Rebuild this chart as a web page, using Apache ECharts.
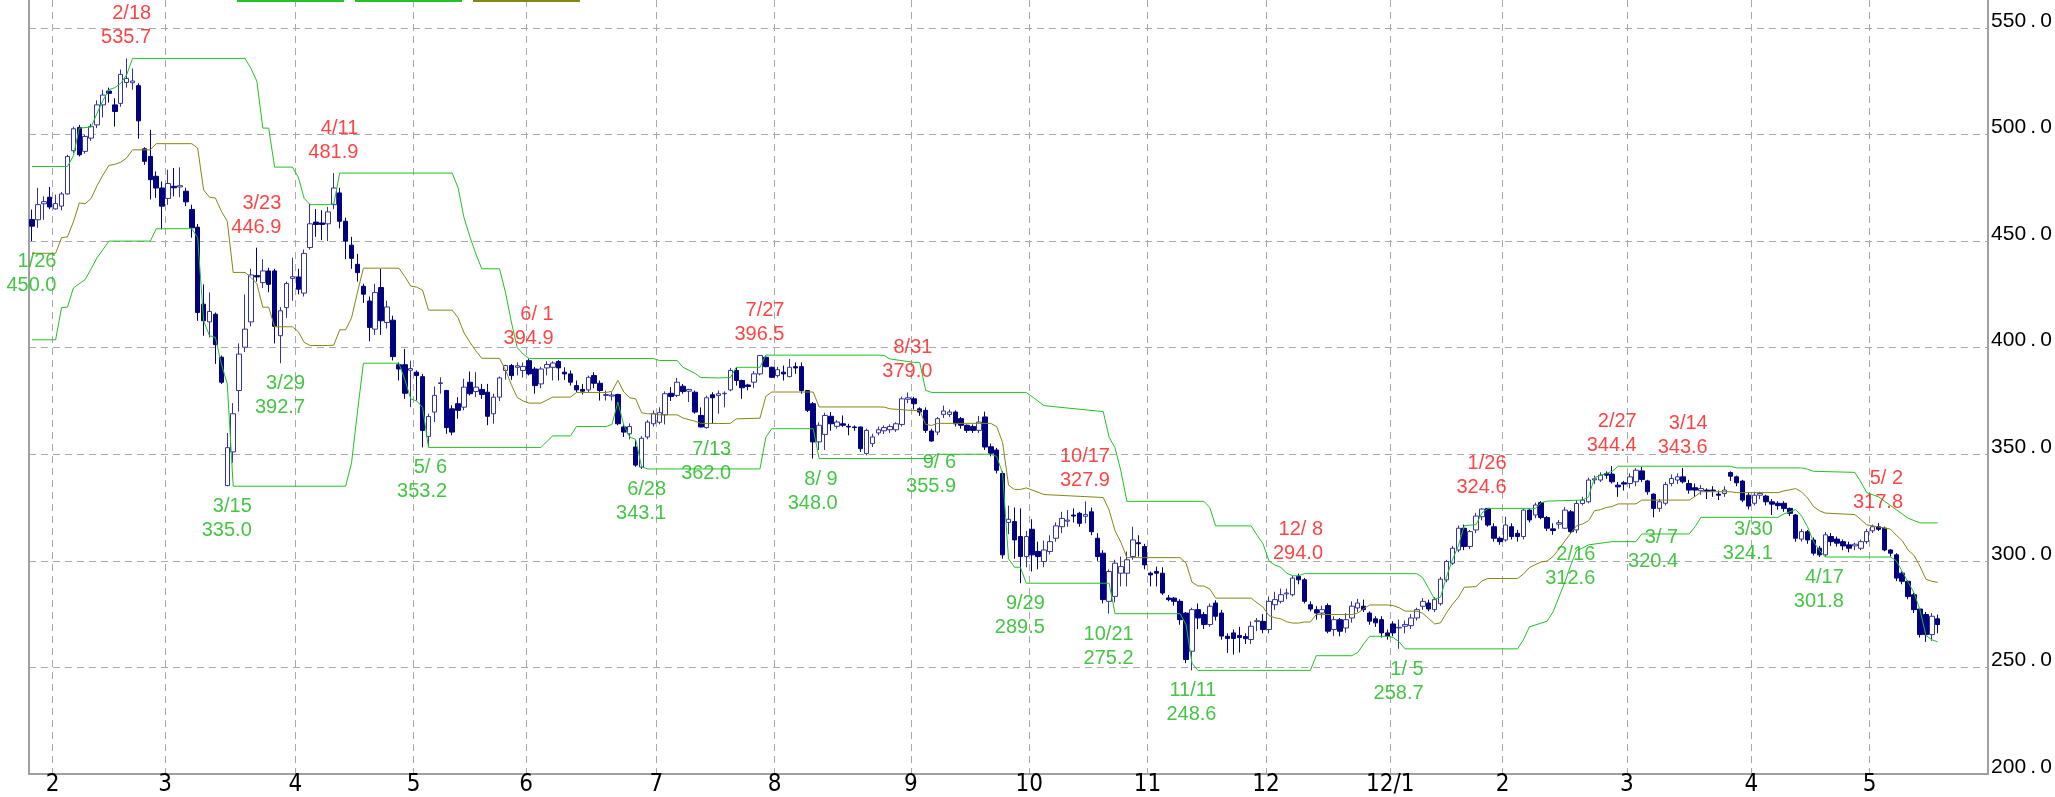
<!DOCTYPE html>
<html>
<head>
<meta charset="utf-8">
<script src="https://cdn.jsdelivr.net/npm/echarts@6.0.0/dist/echarts.min.js"></script>
<style>
  html, body { margin: 0; padding: 0; background: #fff; }
  #main { width: 2055px; height: 797px; }
</style>
</head>
<body>
<div id="main"></div>
<script>
// trading days per month, first month is the tail of Jan 2011
var monthLabels = ['', '2', '3', '4', '5', '6', '7', '8', '9', '10', '11', '12', '12/1', '2', '3', '4', '5'];
var monthDays = [4, 19, 22, 20, 19, 22, 20, 23, 20, 20, 20, 21, 19, 21, 21, 20, 12];
var blankDays = 8;

var opens = [
  460.1,460.0,467.5,470.6,465.1,466.4,472.1,492.4,503.3,492.1,
  498.3,504.5,513.9,520.4,513.9,514.6,524.4,524.3,522.9,493.3,
  489.7,480.4,474.9,470.0,475.7,475.4,473.4,464.8,456.5,420.4,
  412.1,415.7,395.5,335.3,351.1,379.9,400.2,412.1,433.8,430.5,
  436.0,436.0,405.6,418.8,432.5,433.2,425.6,447.0,458.9,458.5,
  458.1,467.1,472.6,459.3,448.1,439.1,428.8,421.9,408.7,428.2,
  411.8,412.9,392.0,392.0,389.4,388.5,386.4,358.4,369.8,383.2,
  379.9,371.3,373.7,372.1,383.8,379.4,380.4,379.1,369.0,376.8,
  389.3,391.6,390.8,389.3,393.9,390.0,383.0,390.5,390.8,393.5,
  388.5,387.7,382.2,380.4,380.2,386.9,383.3,377.6,377.3,378.0,
  362.8,359.6,353.4,344.0,358.1,364.3,365.0,368.5,378.6,377.6,
  381.9,379.6,379.1,368.2,362.5,377.9,377.6,378.4,380.2,389.3,
  384.6,382.5,383.8,387.7,395.5,390.8,386.9,388.5,386.4,391.1,
  391.1,379.9,373.7,355.8,359.3,367.8,363.1,364.3,363.1,362.8,
  362.8,350.3,355.0,360.0,361.0,361.5,361.5,364.0,375.8,376.0,
  371.3,370.6,360.9,360.4,368.7,368.7,369.8,366.7,363.6,363.0,
  361.2,367.5,353.5,352.0,341.0,318.0,318.4,311.4,302.0,314.8,
  304.4,299.7,304.4,310.6,316.0,318.6,321.5,322.3,320.9,323.0,
  310.6,303.6,281.0,283.3,294.2,294.2,302.0,308.5,306.7,294.2,
  295.0,294.2,282.6,282.5,281.0,275.5,257.6,277.1,274.8,270.1,
  280.2,275.5,264.6,266.2,265.0,264.5,263.1,271.6,271.6,267.8,
  279.4,281.0,284.5,284.1,292.7,291.1,279.4,277.1,275.5,279.0,
  267.8,272.4,268.5,273.2,277.9,278.7,275.5,272.8,272.4,266.2,
  270.4,268.5,269.3,269.6,273.2,278.7,280.2,277.1,279.9,291.1,
  298.9,305.1,315.3,306.7,314.5,320.7,324.6,316.0,310.6,309.8,
  316.0,312.9,311.4,323.8,321.5,327.3,320.3,315.0,317.2,315.3,
  323.0,314.5,326.9,327.7,338.0,337.9,341.0,340.7,335.5,336.6,
  336.3,337.1,342.2,337.5,331.3,324.6,327.0,336.3,337.9,339.4,
  336.3,334.3,332.9,333.2,333.2,331.3,331.6,341.4,339.4,337.4,
  330.8,327.0,330.8,330.4,327.7,327.0,327.0,324.6,321.5,310.2,
  313.7,309.8,305.9,302.8,311.4,310.2,309.0,307.5,307.0,305.9,
  309.0,314.1,316.0,315.3,305.1,302.8,294.2,290.4,284.1,277.4,
  274.8,265.4,272.8
];
var closes = [
  457.0,467.1,468.5,466.0,467.6,472.1,489.7,502.7,490.5,499.1,
  503.7,513.9,518.5,519.3,510.8,528.2,526.3,525.1,506.4,487.4,
  478.8,474.9,466.4,477.0,475.0,476.0,468.4,456.2,416.5,412.6,
  417.0,401.4,383.8,353.1,369.0,397.0,408.7,434.1,433.2,436.0,
  429.7,410.0,417.3,430.1,433.3,427.4,444.2,458.1,457.8,457.8,
  463.7,474.9,459.3,450.0,441.9,435.2,425.1,409.5,425.9,412.6,
  419.1,395.8,390.0,378.6,390.2,386.9,361.2,367.7,377.6,383.5,
  362.5,360.4,370.6,381.5,378.4,381.5,378.0,367.8,376.8,385.8,
  391.6,386.9,391.5,391.2,387.7,382.2,390.0,392.1,392.8,390.5,
  387.7,383.8,380.2,379.6,386.1,383.3,379.9,378.0,377.8,364.3,
  360.4,363.0,344.9,357.5,365.1,369.0,369.5,378.4,377.1,383.8,
  379.4,380.4,369.8,362.8,376.5,376.5,378.4,378.6,389.3,384.6,
  381.2,381.8,387.7,396.3,391.1,386.1,389.7,387.7,390.8,390.5,
  379.9,370.6,355.8,363.6,368.2,364.3,365.1,363.6,362.8,362.5,
  352.6,361.2,358.1,361.5,362.5,363.0,364.3,376.0,376.5,373.7,
  369.8,361.2,356.2,366.7,370.3,369.8,364.3,363.6,361.2,361.2,
  365.1,353.4,350.5,342.5,302.8,319.5,309.8,302.0,311.4,302.8,
  302.0,305.1,309.0,316.4,319.9,319.1,321.0,317.6,321.7,313.7,
  302.0,281.8,295.0,298.9,297.3,300.5,309.8,308.0,298.1,293.4,
  294.2,284.9,281.8,281.0,272.4,253.7,277.1,273.2,270.1,278.7,
  274.0,264.7,263.6,263.6,264.0,263.5,269.3,271.9,267.8,281.0,
  281.8,284.1,284.9,291.9,291.1,281.0,277.4,275.5,277.1,267.0,
  272.4,267.0,272.4,278.7,280.2,277.1,271.7,270.9,266.2,264.6,
  266.2,268.8,270.1,273.2,277.1,281.0,277.4,281.8,291.4,299.7,
  305.9,315.3,306.7,313.7,321.0,324.3,316.8,310.6,309.0,316.8,
  311.4,311.4,323.8,319.2,326.2,320.3,315.3,314.2,317.9,323.8,
  313.7,326.9,328.5,337.9,338.5,340.2,340.2,337.1,334.7,336.0,
  339.4,342.5,338.2,332.4,324.6,327.7,335.8,338.6,339.4,337.1,
  333.2,333.2,333.9,332.7,332.9,330.8,333.2,339.7,336.6,328.5,
  325.7,330.8,331.6,327.7,326.6,325.9,324.6,322.3,310.6,313.7,
  309.8,303.6,302.8,312.2,309.0,308.3,307.0,305.9,307.8,309.0,
  313.7,316.0,314.8,305.1,303.6,291.9,290.4,283.3,277.1,265.4,
  265.4,274.0,270.1
];
var lows = [
  450.0,456.2,460.0,465.0,464.8,464.5,471.8,491.3,489.7,491.0,
  497.0,503.0,508.0,515.0,503.7,513.0,522.0,521.0,498.0,485.8,
  469.5,470.3,455.5,467.0,471.0,470.6,466.4,451.6,412.6,405.6,
  404.8,392.4,383.0,335.0,346.0,370.0,398.0,410.0,431.0,428.0,
  426.0,402.0,392.7,414.0,422.0,425.0,424.0,446.0,452.0,450.5,
  450.0,465.0,456.0,441.5,437.0,431.0,421.0,403.0,406.0,406.0,
  409.0,394.0,384.6,376.0,372.1,375.2,353.2,353.4,365.1,378.4,
  359.6,358.9,366.7,370.6,377.6,376.8,376.0,363.6,364.3,375.0,
  385.0,384.9,387.0,386.0,387.0,378.4,381.0,387.0,384.6,384.6,
  384.9,382.2,379.1,378.0,379.1,381.0,375.2,375.2,375.2,363.6,
  358.1,357.0,344.1,343.1,357.0,363.0,364.0,364.0,375.0,376.8,
  378.4,374.5,369.0,362.6,362.0,364.3,369.0,372.0,379.6,382.2,
  376.0,380.0,381.0,387.0,390.8,385.8,386.0,384.6,386.1,387.7,
  378.4,369.8,348.0,352.0,352.0,361.0,362.0,362.8,358.9,361.0,
  351.1,349.5,353.4,358.9,359.5,360.0,360.5,363.0,374.0,371.0,
  368.0,360.0,355.9,359.0,367.0,367.5,363.0,362.0,360.0,360.0,
  360.0,352.0,349.0,341.0,301.0,312.5,301.0,289.5,297.0,295.0,
  296.0,297.0,303.0,309.0,313.0,316.0,318.0,316.0,317.6,312.0,
  300.0,280.0,275.2,280.5,288.0,288.0,300.5,302.0,296.0,288.0,
  288.0,284.0,281.0,279.0,270.0,252.0,248.6,268.0,268.0,269.0,
  272.0,263.0,256.8,256.0,257.0,261.0,261.0,267.0,266.0,266.0,
  277.0,280.0,282.0,283.3,289.0,280.0,276.3,272.4,273.0,266.0,
  264.7,264.6,266.2,271.0,276.0,276.0,270.0,269.0,264.0,263.0,
  264.6,258.7,266.0,268.0,272.0,277.0,276.3,276.0,279.0,290.0,
  298.0,304.0,305.0,305.5,313.0,319.0,316.0,309.0,307.5,309.0,
  310.0,309.0,310.0,318.0,320.0,319.5,314.0,312.2,315.0,315.0,
  312.6,313.0,326.0,327.0,336.0,337.0,338.5,336.3,330.0,333.0,
  334.0,335.0,337.0,331.0,320.4,323.0,326.0,335.0,336.0,336.3,
  331.5,330.0,331.0,329.0,330.0,328.5,330.0,337.5,335.0,327.5,
  324.1,326.0,329.0,326.0,321.5,324.0,323.0,321.0,309.0,309.0,
  308.0,302.5,301.8,302.0,307.0,306.7,305.0,304.0,305.0,305.0,
  308.0,313.0,314.0,304.5,302.0,290.5,289.0,282.0,275.5,264.0,
  262.0,262.5,266.0
];
var highs = [
  464.8,475.0,471.0,475.4,471.8,473.0,490.5,503.7,504.5,500.0,
  505.0,516.0,521.0,522.0,517.0,530.5,535.7,531.0,524.0,494.0,
  502.2,482.7,478.0,483.5,484.3,484.6,475.0,467.1,458.0,429.7,
  425.9,416.5,396.3,360.0,374.0,402.0,425.0,437.0,446.9,441.5,
  437.5,437.0,419.0,431.0,442.2,437.0,446.0,467.5,465.0,464.5,
  466.0,481.9,475.0,461.0,452.0,444.0,430.0,424.0,430.0,437.0,
  422.0,415.0,393.1,399.4,393.9,389.3,387.7,369.0,381.8,386.1,
  380.2,373.0,376.8,385.4,388.8,388.5,383.0,383.0,378.4,386.5,
  391.9,392.4,393.1,393.0,394.9,391.0,391.0,393.6,393.6,394.2,
  390.8,389.3,384.6,383.0,386.9,388.5,384.6,379.9,379.1,378.4,
  364.3,364.5,356.5,358.5,366.0,370.5,372.0,379.5,381.5,385.8,
  383.0,380.7,379.9,372.0,377.5,379.1,379.9,379.5,390.5,390.8,
  385.0,383.0,389.0,396.5,396.3,391.1,391.0,391.6,394.7,393.1,
  393.1,380.0,374.5,365.0,369.5,369.8,366.0,368.2,364.3,363.5,
  363.0,362.0,359.6,363.0,363.5,364.0,365.0,377.0,379.0,377.0,
  372.0,372.0,362.0,367.5,372.8,371.0,370.6,367.5,364.0,364.0,
  368.0,370.0,355.0,353.0,342.0,325.9,325.0,324.6,314.0,319.5,
  309.0,309.5,312.0,318.0,323.0,323.8,324.6,323.0,327.9,325.0,
  313.0,305.0,296.0,300.5,302.0,304.4,316.0,312.0,308.0,295.0,
  297.3,297.0,284.0,283.0,282.0,276.0,278.0,280.0,276.0,280.0,
  281.5,277.0,266.0,267.8,269.0,266.0,271.6,273.2,275.0,283.3,
  285.5,287.0,287.0,293.0,294.0,292.0,281.0,278.7,279.0,280.0,
  274.0,273.2,275.5,281.0,282.2,281.8,276.3,274.0,274.0,267.8,
  271.7,272.4,272.0,275.0,278.0,282.5,281.8,283.0,292.5,300.5,
  307.0,316.5,317.0,314.5,322.5,324.6,324.6,317.6,311.4,320.7,
  317.6,314.5,324.2,324.2,327.3,328.0,321.0,317.6,319.2,325.2,
  323.8,328.5,330.0,339.0,340.0,341.5,342.0,344.4,337.0,337.5,
  341.0,343.5,344.0,338.0,331.6,329.0,337.0,340.5,341.0,343.6,
  338.0,336.3,335.5,334.0,335.0,333.0,335.0,342.0,340.0,338.0,
  332.0,332.4,332.4,331.0,329.0,328.0,328.0,325.0,322.0,315.0,
  314.5,311.0,307.0,313.5,313.0,311.4,310.0,309.0,308.5,310.0,
  315.0,317.0,317.8,316.0,305.5,303.6,295.0,291.0,285.0,278.0,
  276.0,275.5,274.8
];

// channel lines as [day index, price] corners
var upperBand = [[0,485],[6,485],[7,490],[8,503],[10,503.5],[11,510],[12,516],[13,521],[14,522],[15,524],[16,528],[17,535.7],
  [36,535.7],[37,531],[38,525],[39,503],[40,503],[41,484.7],[44,484.7],[45,480],[46,470],[47,467.1],[50,467.1],[51,467.5],
  [52,481.9],[71,481.9],[72,475],[73,461],[74,452],[75,444],[76,437],[79,437],[80,426],[81,412],[82,400],[83,397],[84,394.9],
  [105,394.9],[106,394],[109,394],[110,390.8],[112,388],[113,386],[116,385.8],[118,386],[119,390.8],[123,390.8],[124,396.5],
  [143,396.5],[144,396.3],[145,394.7],[149,393.1],[150,393.1],[151,380],[152,379],[168,379],[169,377],[171,372.8],[181,370],
  [182,358],[183,353],[184,342],[185,327.9],[198,327.9],[199,325],[200,316.4],[206,316.4],[207,312],[208,308],[209,300],
  [210,298],[211,297],[212,294.2],[213,293],[214,293],[215,294],[234,294],[235,292],[236,287],[237,282],[238,283],[239,292.5],
  [240,300.5],[241,307],[242,316.5],[244,317],[245,322.5],[246,324.6],[254,324.6],[255,327.3],[256,328],[262,328.5],[263,330],
  [264,339],[265,340],[266,341],[267,342],[268,344.4],[287,344.4],[288,343.6],[299,343.6],[300,343],[301,342],[308,341.5],
  [309,337],[310,332],[312,330],[313,328],[315,324],[317,320],[319,317.8],[322,317.8]];
var lowerBand = [[0,403.7],[4,403.7],[5,418.8],[6,419],[7,428],[9,432],[10,437],[11,442.2],[12,446],[13,450],[20,450],
  [21,455.8],[27,455.8],[28,451.6],[29,412.6],[30,405.6],[31,404.8],[32,392.4],[33,383],[34,335],[53,335],[54,346],[55,370],
  [56,392.7],[62,392.7],[63,385],[64,376],[65,375],[66,372],[67,353.2],[86,353.2],[87,356],[88,358.6],[91,358.6],[92,363],
  [97,363],[98,364],[99,374.5],[100,363.6],[101,358.1],[102,357],[103,344.1],[104,343.1],[123,343.1],[124,358],[125,362],
  [132,362],[133,348],[152,348],[153,350],[162,350],[163,349],[164,341],[165,301],[166,297],[167,297],[168,289.5],
  [182,289.5],[183,275.2],[194,275.2],[195,270],[196,252],[197,248.6],[216,248.6],[217,255.5],[223,255.5],[224,257],
  [225,261],[226,264.6],[229,264.6],[230,264],[231,262],[232,258.7],[251,258.7],[252,263],[253,269],[256,271.7],[257,276],
  [258,283],[259,290],[260,298],[261,305],[262,306],[263,307.5],[267,309],[271,309],[272,312.6],[280,312.6],[281,316],
  [282,320.4],[295,320.4],[296,322],[297,323],[298,324.1],[299,321],[300,316],[301,309],[302,305],[303,301.8],[314,301.8],
  [315,300],[316,295],[317,290],[318,285],[319,277],[320,265],[321,263],[322,262]];
var midBand = [[0,444.3],[4,444.3],[5,451.6],[6,452],[7,459],[8,467.9],[9,467.5],[10,470],[11,476],[12,481],[13,485.5],
  [14,486],[15,487],[16,489],[17,492.8],[20,492.8],[21,495.7],[27,495.7],[28,493.6],[29,474],[30,470.6],[31,470.2],[32,464],
  [33,459.3],[34,435.3],[36,435.3],[37,433],[38,430],[39,419],[40,419],[41,409.8],[44,409.8],[45,407.5],[46,402.5],[47,401],
  [50,401],[51,401.2],[52,408.4],[53,408.4],[54,414],[55,426],[56,437.3],[62,437.3],[63,433.4],[64,428.9],[65,428.4],
  [66,427],[67,417.6],[71,417.6],[72,414],[73,407],[74,402.5],[75,398.5],[76,395],[79,395],[80,389.6],[81,382.6],[82,376.6],
  [83,375],[84,374],[86,374],[87,375.4],[88,376.8],[91,376.8],[92,379],[97,379],[98,379.5],[99,384.7],[100,379.2],
  [101,376.5],[102,376],[103,369.5],[104,369],[105,369],[106,368.5],[109,368.5],[110,367],[112,365.5],[113,364.5],
  [116,364.4],[118,364.5],[119,366.6],[123,366.9],[124,377.2],[125,379.2],[132,379.2],[133,372.2],[143,372.2],[144,372.1],
  [145,371.3],[149,370.5],[150,370.5],[151,364],[152,363.5],[153,364.5],[162,364.5],[163,363],[164,355.5],[165,335.5],
  [166,333.5],[167,333.5],[168,334.2],[169,333.2],[171,331.1],[181,329.7],[182,323.8],[183,314.1],[184,308.6],[185,301.5],
  [194,301.5],[195,298.9],[196,290],[197,288.2],[198,288.2],[199,286.8],[200,282.5],[206,282.5],[207,280.3],[208,278.3],
  [209,274.3],[210,273.3],[211,272.8],[212,271.4],[213,270.8],[214,270.8],[215,271.3],[216,271.3],[217,274.8],[223,274.8],
  [224,275.5],[225,277.5],[226,279.3],[229,279.3],[230,279],[231,278],[232,276.4],[234,276.4],[235,275.4],[236,272.9],
  [237,270.4],[238,270.9],[239,275.6],[240,279.6],[241,282.9],[242,287.6],[244,287.9],[245,290.6],[246,291.7],[251,291.7],
  [252,293.8],[253,296.8],[254,298.2],[255,299.5],[256,299.9],[257,302],[258,305.5],[259,309.3],[260,313],[261,316.5],
  [262,317.3],[263,318.8],[264,323.5],[265,324],[266,325],[267,325.5],[268,326.7],[271,326.7],[272,328.5],[280,328.5],
  [281,330.2],[282,332.4],[287,332.4],[288,332],[295,332],[296,332.8],[297,333.3],[298,333.9],[299,332.3],[300,329.5],
  [301,325.5],[302,323.5],[303,322.4],[308,321.7],[309,319.4],[310,316.9],[312,315.9],[314,314.9],[315,312],[316,309.5],
  [317,305],[318,302.6],[319,297.4],[320,291.4],[321,290.4],[322,289.9]];

// marked highs (red) and lows (green): [date text, day index, price]
var highMarks = [['2/18',16,535.7],['3/23',38,446.9],['4/11',51,481.9],['6/ 1',84,394.9],['7/27',123,396.5],
  ['8/31',148,379.0],['10/17',178,327.9],['12/ 8',214,294.0],['1/26',245,324.6],['2/27',267,344.4],
  ['3/14',279,343.6],['5/ 2',312,317.8]];
var lowMarks = [['1/26',0,450.0],['3/15',33,335.0],['3/29',42,392.7],['5/ 6',66,353.2],['6/28',103,343.1],
  ['7/13',114,362.0],['8/ 9',132,348.0],['9/ 6',152,355.9],['9/29',167,289.5],['10/21',182,275.2],
  ['11/11',196,248.6],['1/ 5',231,258.7],['2/16',260,312.6],['3/ 7',274,320.4],['3/30',290,324.1],
  ['4/17',302,301.8]];

var chart = echarts.init(document.getElementById('main'));

// categories, one per trading day, and the month labels
var categories = [];
var tickLabels = {};
var pos = 0;
monthDays.forEach(function(n, m) {
  if (monthLabels[m]) tickLabels[pos] = monthLabels[m];
  for (var k = 0; k < n; k++) { categories.push('d' + pos); pos++; }
});
for (var b = 0; b < blankDays; b++) { categories.push('d' + pos); pos++; }

var candles = opens.map(function(o, k) { return [o, closes[k], lows[k], highs[k]]; });
function markData(list) {
  return list.map(function(m) { return [m[1], m[2], m[0] + '\n' + m[2].toFixed(1)]; });
}
function isMonthStart(index) { return tickLabels.hasOwnProperty(index); }

var gridColor = '#a9a9a9';
var axisColor = '#a0a0a0';
var bandGreen = '#22c322';
var bandOlive = '#868614';

var option = {
  animation: false,
  backgroundColor: '#ffffff',
  // only the lower edge of the legend strip is inside the picture
  legend: {
    left: 237,
    top: 0,
    padding: 0,
    itemGap: 6,
    itemWidth: 107,
    itemHeight: 2,
    icon: 'rect',
    selectedMode: false,
    data: ['upper', 'lower', 'middle'],
    formatter: function() { return ''; },
    textStyle: { fontSize: 1, lineHeight: 2 }
  },
  grid: { left: 29, right: 66, top: -2, bottom: 22 },
  xAxis: {
    type: 'category',
    data: categories,
    boundaryGap: true,
    axisLine: { lineStyle: { color: axisColor, width: 2 } },
    axisTick: { show: false },
    axisLabel: {
      interval: isMonthStart,
      formatter: function(v, index) { return tickLabels[index] || ''; },
      color: '#000',
      fontSize: 24,
      fontFamily: "'Liberation Sans Narrow', 'DejaVu Sans Condensed', 'Liberation Sans', sans-serif",
      margin: 0,
      lineHeight: 22,
      padding: [0, 6, 0, 0]
    },
    splitLine: { show: true, interval: isMonthStart, lineStyle: { color: gridColor, type: [7, 5], width: 1 } }
  },
  yAxis: [{
    type: 'value',
    position: 'right',
    min: 200,
    max: 563.1,
    interval: 50,
    axisLine: { show: true, lineStyle: { color: axisColor, width: 2 } },
    axisTick: { show: false },
    axisLabel: {
      showMaxLabel: false,
      color: '#000',
      fontSize: 21,
      fontFamily: "'Liberation Sans', Arial, sans-serif",
      margin: 3,
      verticalAlign: 'bottom',
      lineHeight: 14,
      formatter: function(v) { return v.toFixed(1).replace('.', '\u2009.\u2009'); }
    },
    splitLine: { show: true, showMaxLine: false, lineStyle: { color: gridColor, type: [7, 5], width: 1 } }
  }, {
    type: 'value',
    position: 'left',
    min: 200,
    max: 563.1,
    interval: 50,
    axisLine: { show: true, lineStyle: { color: axisColor, width: 2 } },
    axisTick: { show: false },
    axisLabel: { show: false },
    splitLine: { show: false }
  }],
  series: [
    {
      name: 'price',
      type: 'candlestick',
      data: candles,
      barWidth: 5,
      itemStyle: {
        color: '#ffffff',
        color0: '#000080',
        borderColor: '#3434a0',
        borderColor0: '#000080',
        borderWidth: 1
      }
    },
    {
      name: 'upper',
      type: 'line',
      data: upperBand,
      symbol: 'none',
      itemStyle: { color: bandGreen },
      lineStyle: { color: bandGreen, width: 1 },
      z: 3
    },
    {
      name: 'lower',
      type: 'line',
      data: lowerBand,
      symbol: 'none',
      itemStyle: { color: bandGreen },
      lineStyle: { color: bandGreen, width: 1 },
      z: 3
    },
    {
      name: 'middle',
      type: 'line',
      data: midBand,
      symbol: 'none',
      itemStyle: { color: bandOlive },
      lineStyle: { color: bandOlive, width: 1 },
      z: 3
    },
    {
      name: 'highs',
      type: 'scatter',
      data: markData(highMarks),
      symbol: 'circle',
      symbolSize: 1,
      itemStyle: { color: 'rgba(0,0,0,0)' },
      label: {
        show: true,
        position: [25, -8],
        align: 'right',
        verticalAlign: 'bottom',
        lineHeight: 24,
        fontSize: 20,
        fontFamily: "'Liberation Sans', Arial, sans-serif",
        color: '#ff1414',
        formatter: function(p) { return p.data[2]; }
      },
      z: 5
    },
    {
      name: 'lows',
      type: 'scatter',
      data: markData(lowMarks),
      symbol: 'circle',
      symbolSize: 1,
      itemStyle: { color: 'rgba(0,0,0,0)' },
      label: {
        show: true,
        position: [25, 9],
        align: 'right',
        verticalAlign: 'top',
        lineHeight: 24,
        fontSize: 20,
        fontFamily: "'Liberation Sans', Arial, sans-serif",
        color: '#14b814',
        formatter: function(p) { return p.data[2]; }
      },
      z: 5
    }
  ]
};
chart.setOption(option);
</script>
</body>
</html>
